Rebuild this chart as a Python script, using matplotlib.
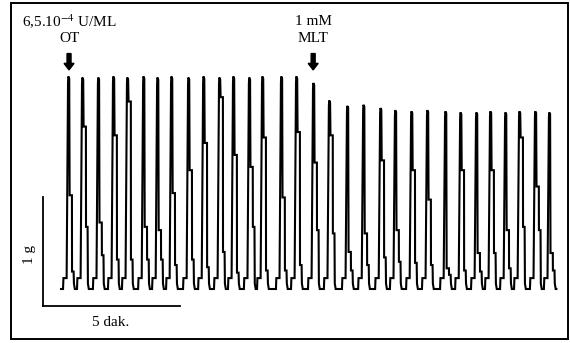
import numpy as np
import matplotlib.pyplot as plt
from matplotlib.patches import Rectangle, FancyArrow

# contraction peaks: time (min, from start of scale bar) and tension (g)
peak_t = [0.95, 1.46, 2.04, 2.59, 3.10, 3.69, 4.20, 4.71, 5.33, 5.88,
          6.46, 6.97, 7.55, 8.03, 8.72, 9.27, 9.89, 10.47, 11.13, 11.72,
          12.34, 12.88, 13.47, 14.05, 14.71, 15.26, 15.84, 16.35, 16.90, 17.41,
          17.99, 18.50]
peak_g = [1.95, 1.94, 1.94, 1.95, 1.94, 1.95, 1.94, 1.95, 1.94, 1.95,
          1.94, 1.95, 1.94, 1.95, 1.95, 1.95, 1.89, 1.73, 1.68, 1.69,
          1.66, 1.64, 1.63, 1.64, 1.63, 1.62, 1.62, 1.63, 1.62, 1.63,
          1.63, 1.62]
# levels where the relaxation phase steps down
shoulder_hi = [0.86, 1.49, 0.61, 1.41, 1.72, 0.57, 0.54, 0.88, 1.09, 1.34,
               1.76, 1.23, 1.12, 1.39, 0.84, 1.44, 1.16, 1.41, 0.34, 0.51,
               1.18, 0.54, 1.09, 0.82, 0.19, 1.09, 0.33, 1.09, 0.54, 1.39,
               0.94, 0.33]
shoulder_lo = [0.16, 0.57, 0.31, 0.27, 0.27, 0.27, 0.27, 0.22, 0.27, 0.20,
               0.34, 0.15, 0.57, 0.17, 0.17, 0.22, 0.54, 0.51, 0.17, 0.22,
               0.29, 0.25, 0.24, 0.22, 0.13, 0.17, 0.16, 0.33, 0.19, 0.57,
               0.54, 0.17]

ot_t = 0.95     # oxytocin 6,5.10^-4 U/ML
mlt_t = 9.86    # melatonin 1 mM

px_per_min = 27.4
px_per_g = 109.0
px = 1.0 / px_per_min

# build the trace
xs = [peak_t[0] - 8 * px]
ys = [0.0]
for t, a, s1, s2 in zip(peak_t, peak_g, shoulder_hi, shoulder_lo):
    shape = [(-6.0, 0.0), (-5.6, 0.1), (-3.2, 0.1), (-2.4, 0.1),
             (-1.0, a * 0.97), (-0.7, a), (0.2, a * 0.99),
             (0.6, s1), (2.9, s1), (3.0, s2), (4.6, s2),
             (4.9, 0.05), (5.8, 0.0)]
    for dx, y in shape:
        xs.append(t + dx * px)
        ys.append(y)
xs.append(peak_t[-1] + 6.5 * px)
ys.append(0.0)

fig = plt.figure(figsize=(5.7, 3.43), dpi=100)
ax = fig.add_axes([0, 0, 1, 1])
ax.set_xlim(-43 / px_per_min, (570 - 43) / px_per_min)
ax.set_ylim(-(343 - 289) / px_per_g, 289 / px_per_g)
ax.axis('off')

ax.plot(xs, ys, color='black', lw=1.5, solid_joinstyle='miter')

# scale bars: 1 g and 5 min
bar_y = -0.156
ax.plot([0, 0], [bar_y, bar_y + 1.0], color='black', lw=1.3)
ax.plot([0, 5], [bar_y, bar_y], color='black', lw=1.3)

plt.rcParams['mathtext.fontset'] = 'stix'
fnt = dict(family='Liberation Serif', fontsize=11, color='black')
ax.text(-0.48, bar_y + 0.47, '1 g', rotation=90, ha='center', va='center', **fnt)
ax.text(2.45, -0.31, '5 dak.', ha='center', va='center', **fnt)

ax.text(ot_t, 2.455, r'6,5.10$^{-4}$ U/ML', ha='center', va='center', **fnt)
ax.text(ot_t, 2.30, 'OT', ha='center', va='center', **fnt)
ax.text(mlt_t, 2.455, '1 mM', ha='center', va='center', **fnt)
ax.text(mlt_t, 2.30, 'MLT', ha='center', va='center', **fnt)

for t in (ot_t, mlt_t):
    ax.add_patch(FancyArrow(t, 2.16, 0, -0.15, width=4 * px,
                            head_width=10 * px, head_length=0.06,
                            length_includes_head=True, color='black'))

# frame around the figure
ax.add_patch(Rectangle((11 / 570, 4 / 343), 557 / 570, 336 / 343,
                       transform=ax.transAxes, fill=False,
                       edgecolor='black', lw=1.4))

fig.savefig('out.png', dpi=100)
